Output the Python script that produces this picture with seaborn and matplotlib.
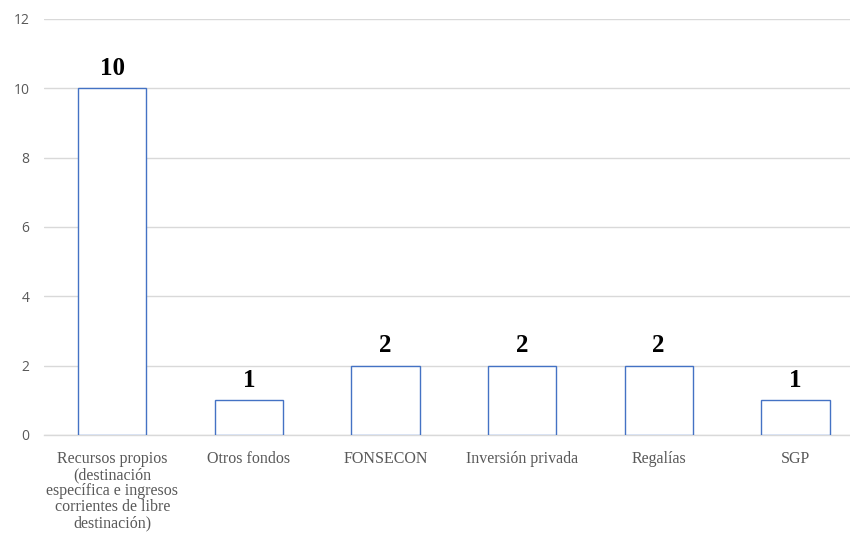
import matplotlib
matplotlib.use("Agg")
import matplotlib.pyplot as plt
import seaborn as sns
import pandas as pd

categories = [
    "Recursos propios\n(destinación\nespecífica e ingresos\ncorrientes de libre\ndestinación)",
    "Otros fondos",
    "FONSECON",
    "Inversión privada",
    "Regalías",
    "SGP",
]
values = [10, 1, 2, 2, 2, 1]

df = pd.DataFrame({"cat": categories, "val": values})

sns.set_theme(style="white")
plt.rcParams["font.family"] = ["Liberation Serif", "DejaVu Serif"]

fig = plt.figure(figsize=(8.5, 5.36), dpi=100)
ax = fig.add_axes([44 / 850, 101 / 536, 806 / 850, 416 / 536])

sns.barplot(data=df, x="cat", y="val", ax=ax, color="white",
            edgecolor="#4472C4", linewidth=1.0, width=0.5, zorder=3)

ax.set_xlim(-0.5, 5.4)
ax.set_ylim(0, 12)
ax.set_yticks([0, 2, 4, 6, 8, 10, 12])
ax.grid(axis="y", color="#D9D9D9", linewidth=1.0, zorder=0)
ax.set_axisbelow(True)
for s in ["top", "right", "left"]:
    ax.spines[s].set_visible(False)
ax.spines["bottom"].set_color("#D9D9D9")
ax.spines["bottom"].set_linewidth(1.0)

ax.set_xlabel("")
ax.set_ylabel("")
ax.tick_params(axis="y", length=0, pad=10.5, labelcolor="#595959", labelsize=10)
ax.tick_params(axis="x", length=0, pad=11.5, labelcolor="#595959", labelsize=11.5)
for lab in ax.get_yticklabels():
    lab.set_fontfamily(["Open Sans", "DejaVu Sans"])
for lab in ax.get_xticklabels():
    lab.set_linespacing(1.0)
    lab.set_fontfamily(["Liberation Serif", "DejaVu Serif"])

for p, v in zip(ax.patches, values):
    ax.annotate(str(v), (p.get_x() + p.get_width() / 2, p.get_height()),
                xytext=(0, 6), textcoords="offset points", ha="center", va="bottom",
                fontsize=18, fontweight="bold", color="black",
                fontfamily=["Liberation Serif", "DejaVu Serif"])

fig.savefig("out.png", dpi=100, facecolor="white")
